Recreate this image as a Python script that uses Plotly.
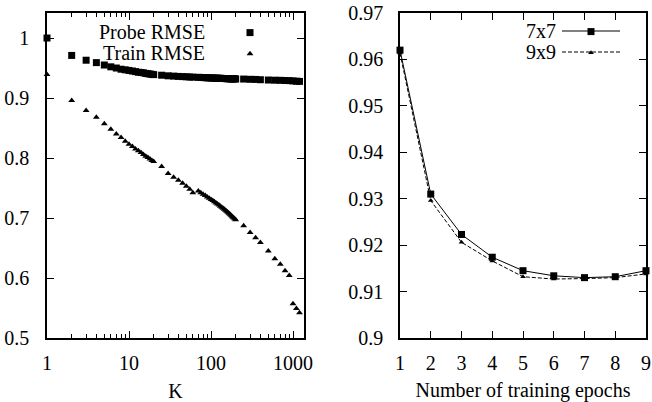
import plotly.graph_objects as go

# ---------------- data ----------------
K = [1, 2, 3, 4, 5, 6, 7, 8, 9, 10, 11, 12, 13, 14, 15, 16, 17, 18, 19, 20,
     25, 30, 35, 40, 45, 50, 55, 60,
     70, 75, 80, 85, 90, 95, 100, 105, 110, 115, 120, 125, 130, 135, 140,
     145, 150, 155, 160, 165, 170, 175, 180, 185, 190, 195, 200,
     250, 300, 350, 400, 500, 600, 700, 800, 900, 1000, 1100, 1200]

probe_rmse = [1.000, 0.971, 0.963, 0.959, 0.955, 0.952, 0.950, 0.948, 0.947, 0.946,
              0.945, 0.944, 0.943, 0.9425, 0.942, 0.941, 0.9405, 0.940, 0.9395, 0.939,
              0.938, 0.937, 0.9365, 0.936, 0.9357, 0.9354, 0.935, 0.9348,
              0.9345, 0.9343, 0.9341, 0.9339, 0.9337, 0.9336, 0.9334, 0.9333, 0.9332,
              0.9331, 0.9330, 0.9329, 0.9328, 0.9327, 0.9326, 0.9325, 0.9324, 0.9323,
              0.9322, 0.9322, 0.9321, 0.9321, 0.9320, 0.9320, 0.9319, 0.9319, 0.9318,
              0.9316, 0.9312, 0.9310, 0.9305, 0.9300, 0.9297, 0.9295, 0.9292, 0.9290,
              0.9285, 0.9280, 0.9277]

train_rmse = [0.939, 0.896, 0.879, 0.868, 0.857, 0.848, 0.840, 0.834, 0.828, 0.823,
              0.819, 0.815, 0.812, 0.809, 0.806, 0.803, 0.801, 0.7985, 0.796, 0.794,
              0.786, 0.774, 0.768, 0.763, 0.758, 0.753, 0.748, 0.742,
              0.745, 0.7423, 0.7398, 0.7374, 0.7351, 0.7330, 0.7310, 0.7290, 0.7271,
              0.7252, 0.7234, 0.7216, 0.7198, 0.7180, 0.7162, 0.7145, 0.7128, 0.7111,
              0.7094, 0.7078, 0.7062, 0.7046, 0.7030, 0.7014, 0.6999, 0.6984, 0.6970,
              0.687, 0.676, 0.667, 0.659, 0.645, 0.632, 0.623, 0.612, 0.604,
              0.557, 0.549, 0.542]

epochs = [1, 2, 3, 4, 5, 6, 7, 8, 9]
rmse_7x7 = [0.9620, 0.9310, 0.9223, 0.9174, 0.9145, 0.9134, 0.9130, 0.9132, 0.9145]
rmse_9x9 = [0.9614, 0.9296, 0.9206, 0.9166, 0.9132, 0.9127, 0.9128, 0.9130, 0.9138]

left_yticks = [0.5, 0.6, 0.7, 0.8, 0.9, 1.0]
left_yticklabels = ["0.5", "0.6", "0.7", "0.8", "0.9", "1"]
left_xticks = [1, 10, 100, 1000]
left_xticklabels = ["1", "10", "100", "1000"]
left_xminor = [2, 3, 4, 5, 6, 7, 8, 9, 20, 30, 40, 50, 60, 70, 80, 90,
               200, 300, 400, 500, 600, 700, 800, 900]
right_yticks = [0.90, 0.91, 0.92, 0.93, 0.94, 0.95, 0.96, 0.97]
right_yticklabels = ["0.9", "0.91", "0.92", "0.93", "0.94", "0.95", "0.96", "0.97"]

FONT = "Liberation Serif"

fig = go.Figure()

# left panel
fig.add_trace(go.Scatter(x=K, y=probe_rmse, mode="markers", name="Probe RMSE",
                         marker=dict(symbol="square", size=7, color="black"),
                         cliponaxis=False, showlegend=False, xaxis="x", yaxis="y"))
fig.add_trace(go.Scatter(x=K, y=train_rmse, mode="markers", name="Train RMSE",
                         marker=dict(symbol="triangle-up", size=6, color="black"),
                         cliponaxis=False, showlegend=False, xaxis="x", yaxis="y"))
# right panel
fig.add_trace(go.Scatter(x=epochs, y=rmse_7x7, mode="lines+markers", name="7x7",
                         line=dict(color="black", width=1),
                         marker=dict(symbol="square", size=7, color="black"),
                         cliponaxis=False, showlegend=False, xaxis="x2", yaxis="y2"))
fig.add_trace(go.Scatter(x=epochs, y=rmse_9x9, mode="lines+markers", name="9x9",
                         line=dict(color="black", width=1, dash="4px,2px"),
                         marker=dict(symbol="triangle-up", size=5, color="black"),
                         cliponaxis=False, showlegend=False, xaxis="x2", yaxis="y2"))

# legend key markers (legend-only entries, no data)
fig.add_trace(go.Scatter(x=[None], y=[None], mode="markers", name=" ",
                         marker=dict(symbol="square", size=7, color="black"),
                         legend="legend", xaxis="x", yaxis="y"))
fig.add_trace(go.Scatter(x=[None], y=[None], mode="markers", name=" ",
                         marker=dict(symbol="triangle-up", size=6, color="black"),
                         legend="legend", xaxis="x", yaxis="y"))
fig.add_trace(go.Scatter(x=[None], y=[None], mode="markers", name=" ",
                         marker=dict(symbol="square", size=7, color="black"),
                         legend="legend2", xaxis="x2", yaxis="y2"))
fig.add_trace(go.Scatter(x=[None], y=[None], mode="markers", name=" ",
                         marker=dict(symbol="triangle-up", size=5, color="black"),
                         legend="legend2", xaxis="x2", yaxis="y2"))

axis_common = dict(showline=True, linecolor="black", linewidth=1.5, mirror="all",
                   ticks="inside", tickcolor="black", tickwidth=1, showgrid=False,
                   zeroline=False, automargin=False,
                   tickfont=dict(family=FONT, size=20, color="black"))

W, H = 652, 402
ML, MR, MT, MB = 47, 6, 13, 64
PW = W - ML - MR
PH = H - MT - MB


def px(xp):
    return (xp - ML) / PW


def py(yp):
    return (H - MB - yp) / PH


fig.update_layout(
    width=W, height=H,
    margin=dict(l=ML, r=MR, t=MT, b=MB, autoexpand=False),
    paper_bgcolor="white", plot_bgcolor="white",
    font=dict(family=FONT, size=20, color="black"),
    xaxis=dict(axis_common, type="log", range=[0, 3.134], domain=[0, px(304)],
               tickvals=left_xticks, ticktext=left_xticklabels, ticklen=7,
               minor=dict(tickvals=left_xminor, ticks="inside", ticklen=4,
                          tickcolor="black", showgrid=False),
               ticklabelstandoff=6,
               title=dict(text="K", font=dict(family=FONT, size=20), standoff=13)),
    yaxis=dict(axis_common, range=[0.5, 1.0417], tickvals=left_yticks,
               ticktext=left_yticklabels, ticklen=7, ticklabelstandoff=12),
    xaxis2=dict(axis_common, range=[1, 9], domain=[px(400), 1], anchor="y2",
                tickvals=epochs, ticklen=7, ticklabelstandoff=6,
                title=dict(text="Number of training epochs",
                           font=dict(family=FONT, size=20), standoff=13)),
    yaxis2=dict(axis_common, range=[0.9, 0.97], anchor="x2", tickvals=right_yticks,
                ticktext=right_yticklabels, ticklen=7, ticklabelstandoff=11),
    legend=dict(x=px(230), y=py(17), xanchor="left", yanchor="top",
                bgcolor="rgba(0,0,0,0)", borderwidth=0,
                font=dict(family=FONT, size=14), tracegroupgap=0),
    legend2=dict(x=px(571), y=py(16), xanchor="left", yanchor="top",
                 bgcolor="rgba(0,0,0,0)", borderwidth=0,
                 font=dict(family=FONT, size=14), tracegroupgap=0),
    showlegend=True,
)

# legend texts
for txt, xr, yc in [("Probe RMSE", 207, 32), ("Train RMSE", 207, 53),
                    ("7x7", 558, 31), ("9x9", 558, 52)]:
    fig.add_annotation(text=txt, xref="paper", yref="paper", x=px(xr), y=py(yc),
                       xanchor="right", yanchor="middle", showarrow=False,
                       font=dict(family=FONT, size=20, color="black"))

# legend key lines for right panel
fig.add_shape(type="line", xref="paper", yref="paper", x0=px(562), x1=px(620),
              y0=py(31), y1=py(31), line=dict(color="black", width=1))
fig.add_shape(type="line", xref="paper", yref="paper", x0=px(562), x1=px(620),
              y0=py(52), y1=py(52), line=dict(color="black", width=1, dash="4px,2px"))

fig.write_html("out.html", config={"displayModeBar": False},
               post_script="document.body.style.margin='0';")
